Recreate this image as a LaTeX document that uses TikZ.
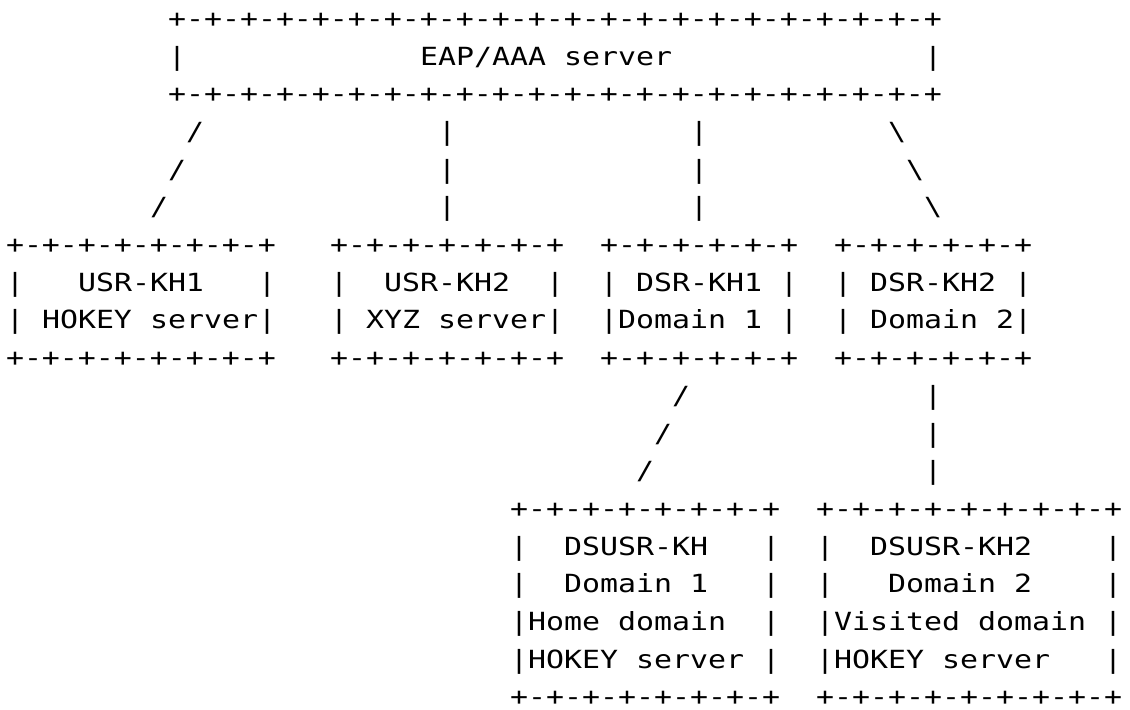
\documentclass[tikz,border=0pt]{standalone}
\usepackage{fontspec}
\newfontfamily\ascfont[FakeStretch=1.196]{DejaVu Sans Mono}
\tikzset{asc/.style={anchor=base west,inner sep=0pt,outer sep=0pt,font=\ascfont\fontsize{12.5}{15}\selectfont,text=black}}
\newcommand\seg[4]{\node[asc] (#1) at ({6+18*#2},{-27.3-37.7*(#3-1)}) {#4};}
\newcommand\pxv{{+-+-+-+-+-}{+-+-+-+-+-}{+-+-+-+-+-}{+-+-+-+-+-}{+-+}}
\newcommand\pxo{+-+-+-+-+-+}
\newcommand\pxt{+-+-+-+-+-+-+}
\newcommand\pxf{+-+-+-+-+-+-+-+}
\newcommand\pxs{+-+-+-+-+-+-+-+-+}
\begin{document}
\begin{tikzpicture}[x=0.5pt,y=0.5pt]
\fill[white] (0,0) rectangle (1130,-709);
\useasboundingbox (0,0) rectangle (1130,-709);
% top box
\seg{r1}{9}{1}{\pxv}
\seg{r2a}{9}{2}{|}
\seg{r2b}{23}{2}{EAP/AAA}
\seg{r2c}{31}{2}{server}
\seg{r2d}{51}{2}{|}
\seg{r3}{9}{3}{\pxv}
% links to second level
\seg{r4a}{10}{4}{/}
\seg{r4b}{24}{4}{|}
\seg{r4c}{38}{4}{|}
\seg{r4d}{49}{4}{\textbackslash}
\seg{r5a}{9}{5}{/}
\seg{r5b}{24}{5}{|}
\seg{r5c}{38}{5}{|}
\seg{r5d}{50}{5}{\textbackslash}
\seg{r6a}{8}{6}{/}
\seg{r6b}{24}{6}{|}
\seg{r6c}{38}{6}{|}
\seg{r6d}{51}{6}{\textbackslash}
% second level boxes
\seg{r7a}{0}{7}{\pxf}
\seg{r7b}{18}{7}{\pxt}
\seg{r7c}{33}{7}{\pxo}
\seg{r7d}{46}{7}{\pxo}
\seg{r8a}{0}{8}{|}
\seg{r8b}{4}{8}{USR-KH1}
\seg{r8c}{14}{8}{|}
\seg{r8d}{18}{8}{|}
\seg{r8e}{21}{8}{USR-KH2}
\seg{r8f}{30}{8}{|}
\seg{r8g}{33}{8}{|}
\seg{r8h}{35}{8}{DSR-KH1}
\seg{r8i}{43}{8}{|}
\seg{r8j}{46}{8}{|}
\seg{r8k}{48}{8}{DSR-KH2}
\seg{r8l}{56}{8}{|}
\seg{r9a}{0}{9}{|}
\seg{r9b}{2}{9}{HOKEY}
\seg{r9c}{8}{9}{server|}
\seg{r9d}{18}{9}{|}
\seg{r9e}{20}{9}{XYZ}
\seg{r9f}{24}{9}{server|}
\seg{r9g}{33}{9}{|Domain}
\seg{r9h}{41}{9}{1}
\seg{r9i}{43}{9}{|}
\seg{r9j}{46}{9}{|}
\seg{r9k}{48}{9}{Domain}
\seg{r9l}{55}{9}{2|}
\seg{r10a}{0}{10}{\pxf}
\seg{r10b}{18}{10}{\pxt}
\seg{r10c}{33}{10}{\pxo}
\seg{r10d}{46}{10}{\pxo}
% links to third level
\seg{r11a}{37}{11}{/}
\seg{r11b}{51}{11}{|}
\seg{r12a}{36}{12}{/}
\seg{r12b}{51}{12}{|}
\seg{r13a}{35}{13}{/}
\seg{r13b}{51}{13}{|}
% third level boxes
\seg{r14a}{28}{14}{\pxf}
\seg{r14b}{45}{14}{\pxs}
\seg{r15a}{28}{15}{|}
\seg{r15b}{31}{15}{DSUSR-KH}
\seg{r15c}{42}{15}{|}
\seg{r15d}{45}{15}{|}
\seg{r15e}{48}{15}{DSUSR-KH2}
\seg{r15f}{61}{15}{|}
\seg{r16a}{28}{16}{|}
\seg{r16b}{31}{16}{Domain}
\seg{r16c}{38}{16}{1}
\seg{r16d}{42}{16}{|}
\seg{r16e}{45}{16}{|}
\seg{r16f}{49}{16}{Domain}
\seg{r16g}{56}{16}{2}
\seg{r16h}{61}{16}{|}
\seg{r17a}{28}{17}{|Home}
\seg{r17b}{34}{17}{domain}
\seg{r17c}{42}{17}{|}
\seg{r17d}{45}{17}{|Visited}
\seg{r17e}{54}{17}{domain}
\seg{r17f}{61}{17}{|}
\seg{r18a}{28}{18}{|HOKEY}
\seg{r18b}{35}{18}{server}
\seg{r18c}{42}{18}{|}
\seg{r18d}{45}{18}{|HOKEY}
\seg{r18e}{52}{18}{server}
\seg{r18f}{61}{18}{|}
\seg{r19a}{28}{19}{\pxf}
\seg{r19b}{45}{19}{\pxs}
\end{tikzpicture}
\end{document}
